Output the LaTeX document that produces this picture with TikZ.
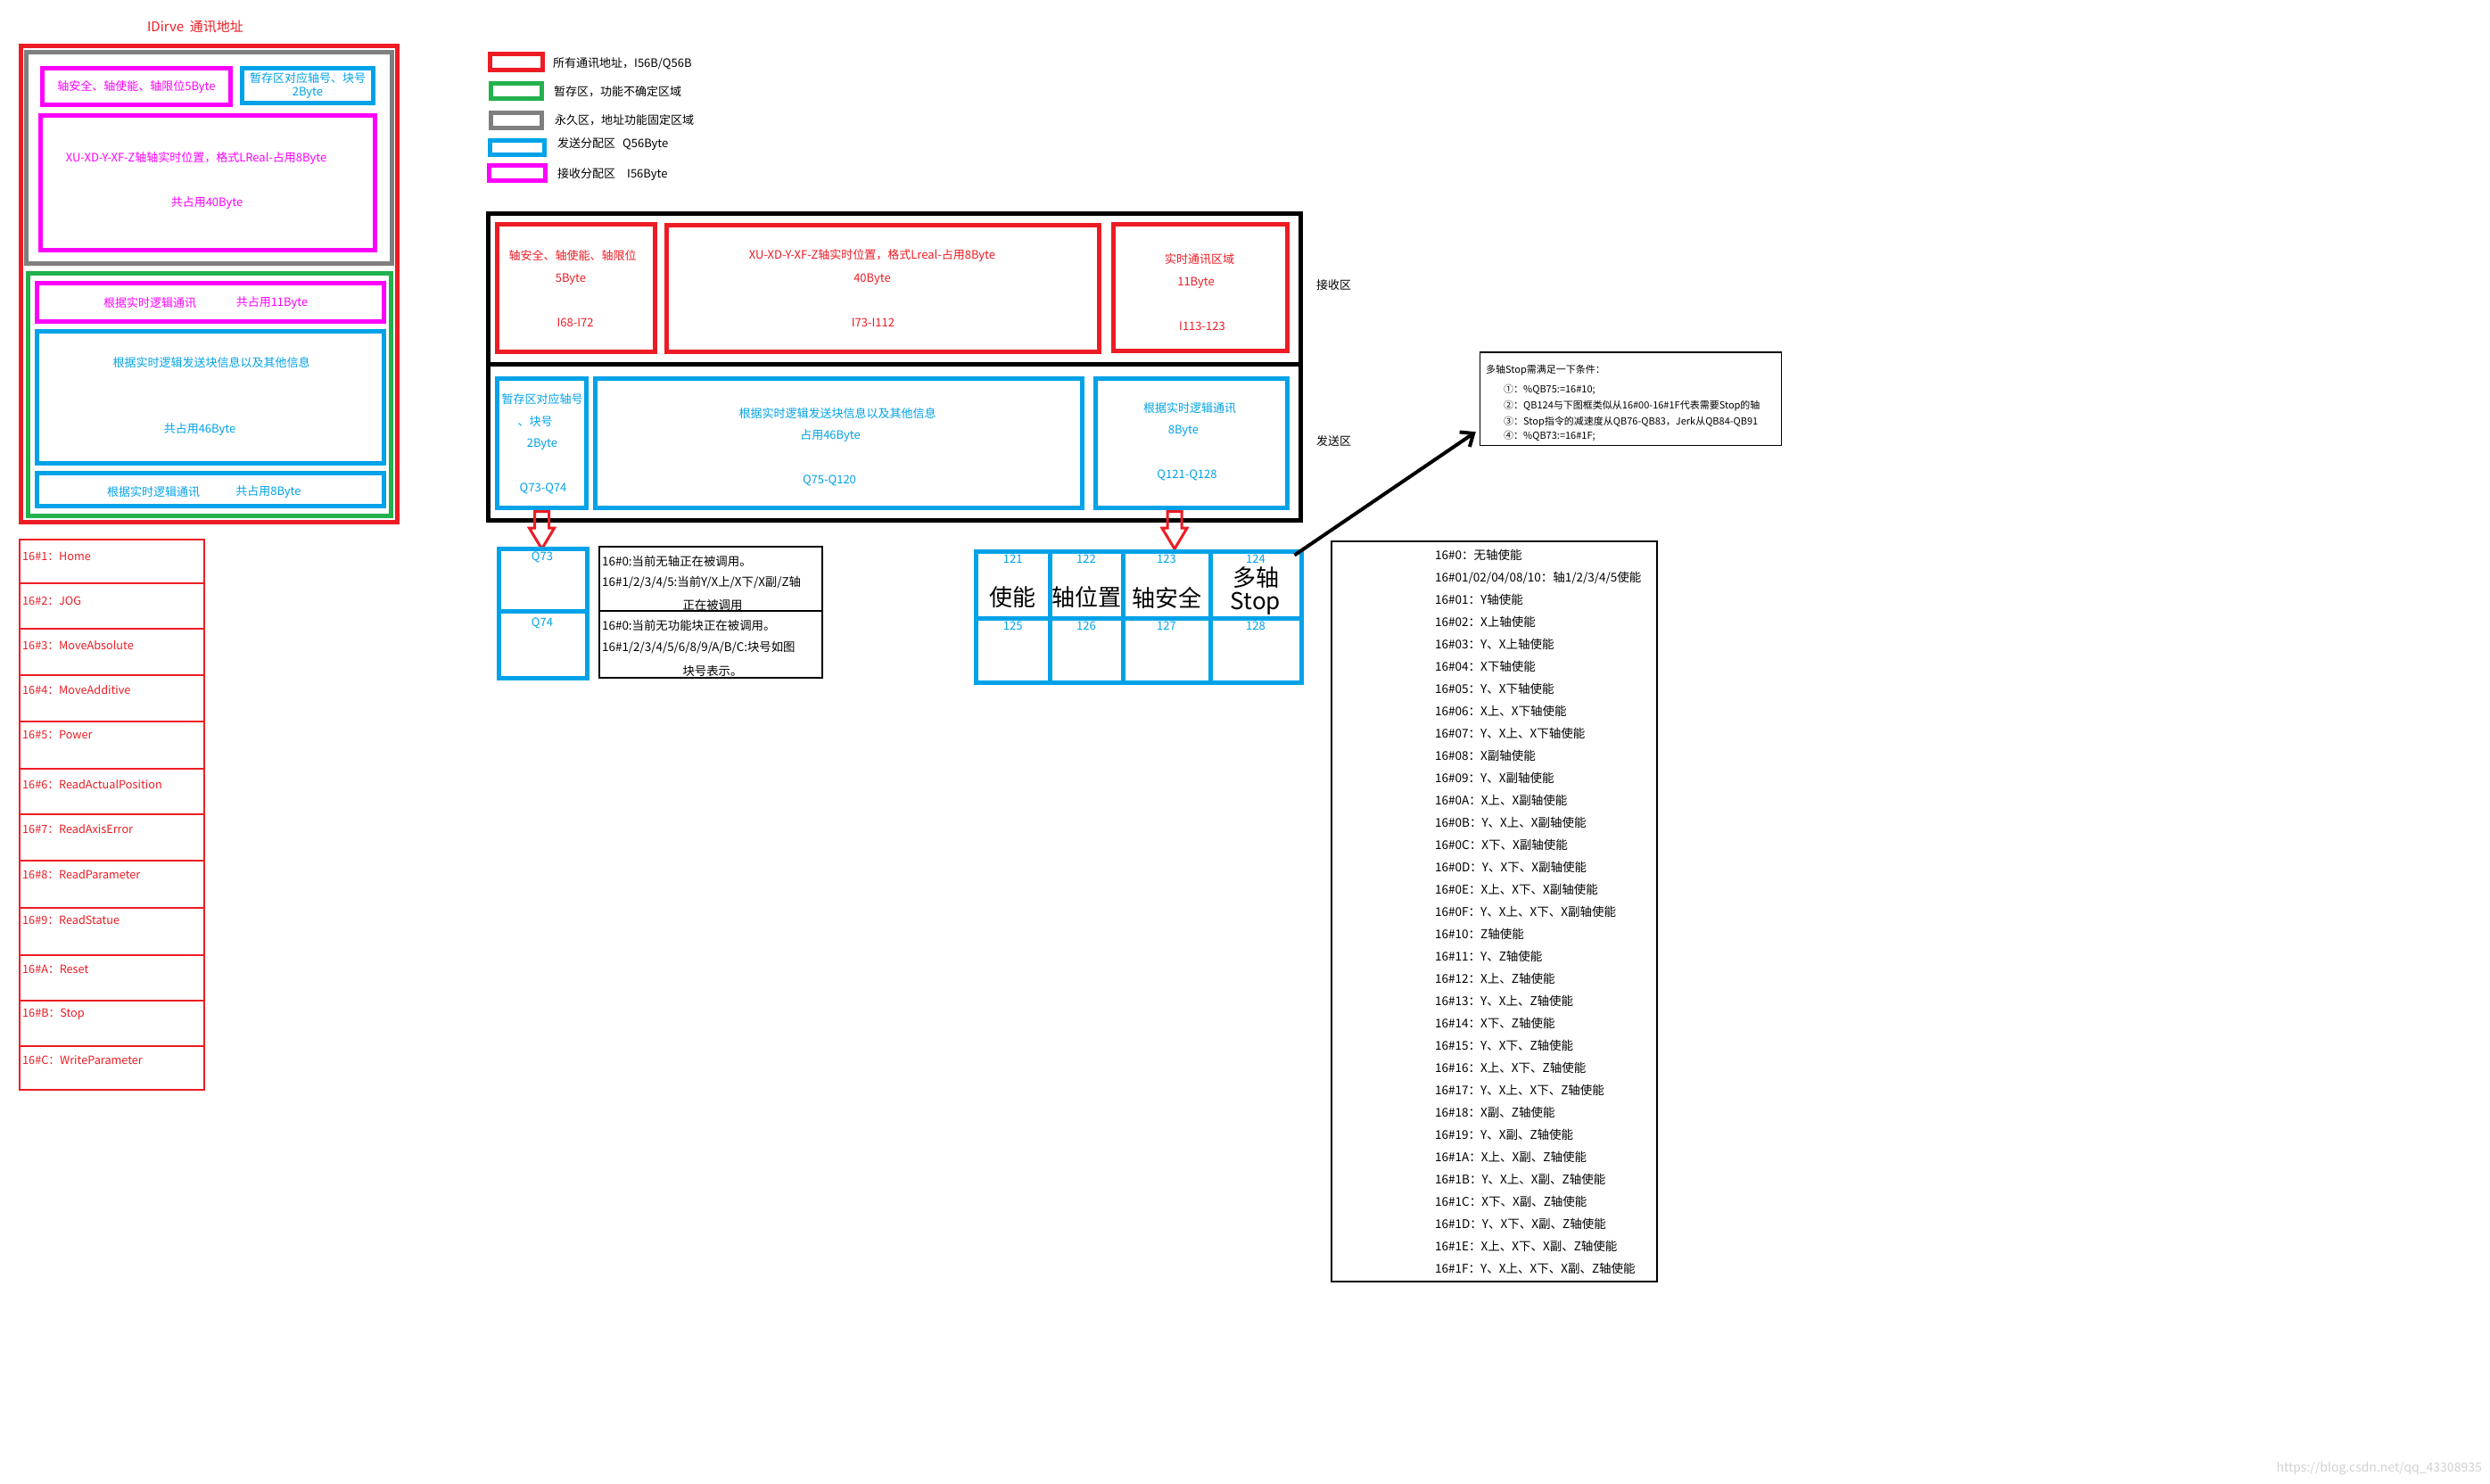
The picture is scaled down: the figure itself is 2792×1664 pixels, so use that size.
\documentclass[tikz,border=0pt]{standalone}
\usepackage{fontspec}
\setmainfont{Noto Sans CJK SC}
\usetikzlibrary{arrows.meta,shapes.arrows}
\definecolor{idred}{RGB}{237,28,36}
\definecolor{idmagenta}{RGB}{255,0,255}
\definecolor{idblue}{RGB}{0,162,232}
\definecolor{idgreen}{RGB}{34,177,76}
\definecolor{idgray}{RGB}{127,127,127}
\newcommand{\fsize}[2]{\fontsize{#1}{#2}\selectfont}

\begin{document}
\begin{tikzpicture}[
  x=1pt, y=-1pt,
  zone/.style={draw, line width=5, inner sep=0, align=center, font=\fsize{13}{15}},
  thinbox/.style={draw, line width=1.5, inner sep=0},
  wh/.style 2 args={minimum width=#1, minimum height=#2},
  txt/.style={inner sep=0, align=center, font=\fsize{13}{15}},
  fnrow/.style={draw=idred, line width=1.5, inner sep=0, minimum width=207},
  cell/.style={zone, draw=idblue},
  cellnum/.style={anchor=north, yshift=-6, inner sep=0, text=idblue, font=\fsize{13}{15}},
  bigtxt/.style={inner sep=0, align=center, font=\fsize{26}{26}},
  hollowarrow/.style={single arrow, draw=idred, line width=3, rotate=-90, anchor=tail,
    inner xsep=0, inner ysep=6.5, minimum height=42, minimum width=25,
    single arrow head extend=6, single arrow tip angle=62},
  pointer/.style={line width=4, -{Straight Barb[length=12, width=20]}}
]
  \fill[white] (0,0) rectangle (2792,1664);
  \useasboundingbox (0,0) rectangle (2792,1664);

  % IDrive address overview (left)
  \node[txt, text=idred, font=\fsize{15}{17}] (title) at (219,30) {IDirve~~通讯地址};
  \node[zone, draw=idred, wh={422}{534}] (all) at (234.5,318.5) {};
  \node[zone, draw=idgray, wh={410}{237}] (fixed) at (234.5,177) {};
  \node[zone, draw=idmagenta, text=idmagenta, wh={211}{41}] (safety) at (153,97) {轴安全、轴使能、轴限位5Byte};
  \node[zone, draw=idblue, text=idblue, wh={147}{39}] (slot) at (345,96) {暂存区对应轴号、块号\\2Byte};
  \node[zone, draw=idmagenta, wh={375}{151}] (axispos) at (233,205) {};
  \node[txt, text=idmagenta] at (220,178) {XU-XD-Y-XF-Z轴轴实时位置，格式LReal-占用8Byte};
  \node[txt, text=idmagenta] at (232,228) {共占用40Byte};
  \node[zone, draw=idgreen, wh={407}{272}] (temp) at (235,442.5) {};
  \node[zone, draw=idmagenta, wh={389}{43}] (rtrecv) at (236,339) {};
  \node[txt, text=idmagenta] at (168,340) {根据实时逻辑通讯};
  \node[txt, text=idmagenta] at (305,340) {共占用11Byte};
  \node[zone, draw=idblue, wh={389}{148}] (blocksend) at (236,445.5) {};
  \node[txt, text=idblue] at (237,407) {根据实时逻辑发送块信息以及其他信息};
  \node[txt, text=idblue] at (224,482) {共占用46Byte};
  \node[zone, draw=idblue, wh={389}{37}] (rtsend) at (236,549) {};
  \node[txt, text=idblue] at (172,552) {根据实时逻辑通讯};
  \node[txt, text=idblue] at (301,552) {共占用8Byte};

  % Function block numbers
  \foreach \code/\fname/\top/\bot/\ty in {1/Home/605/654/624, 2/JOG/654/705/674,
      3/MoveAbsolute/705/757/724, 4/MoveAdditive/757/809/774, 5/Power/809/862/824,
      6/ReadActualPosition/862/913/880, 7/ReadAxisError/913/965/930,
      8/ReadParameter/965/1018/981, 9/ReadStatue/1018/1071/1032,
      A/Reset/1071/1122/1087, B/Stop/1122/1173/1137, C/WriteParameter/1173/1222/1189}
  {
    \node[fnrow, minimum height={\bot-\top}] (fn\code) at (125.5,{(\top+\bot)/2}) {};
    \node[txt, text=idred, anchor=west, font=\fsize{12.7}{14}] at (25,\ty) {16\#\code：\fname};
  }

  % Legend
  \node[zone, draw=idred, wh={59}{18}] (lgred) at (579,69.5) {};
  \node[txt, anchor=west] at (620,71) {所有通讯地址，I56B/Q56B};
  \node[zone, draw=idgreen, wh={57}{17}] (lggreen) at (579,102) {};
  \node[txt, anchor=west] at (621,103) {暂存区，功能不确定区域};
  \node[zone, draw=idgray, wh={57}{17}] (lggray) at (579,135) {};
  \node[txt, anchor=west] at (622,135) {永久区，地址功能固定区域};
  \node[zone, draw=idblue, wh={61}{16}] (lgblue) at (580,165.5) {};
  \node[txt, anchor=west] at (625,162) {发送分配区\hspace{8pt}Q56Byte};
  \node[zone, draw=idmagenta, wh={63}{17}] (lgmag) at (580,194) {};
  \node[txt, anchor=west] at (625,196) {接收分配区\hspace{13pt}I56Byte};

  % Receive zone
  \node[zone, draw=black, wh={911}{168.5}] (recvzone) at (1003,323.75) {};
  \node[zone, draw=idred, wh={177}{143}] (r1) at (646,323) {};
  \node[txt, text=idred] at (642,287) {轴安全、轴使能、轴限位};
  \node[txt, text=idred] at (640,313) {5Byte};
  \node[txt, text=idred] at (645,362) {I68-I72};
  \node[zone, draw=idred, wh={485}{142}] (r2) at (990,323.5) {};
  \node[txt, text=idred] at (978,287) {XU-XD-Y-XF-Z轴实时位置，格式Lreal-占用8Byte};
  \node[txt, text=idred] at (978,313) {40Byte};
  \node[txt, text=idred] at (979,362) {I73-I112};
  \node[zone, draw=idred, wh={195}{142}] (r3) at (1346,322.5) {};
  \node[txt, text=idred] at (1345,291) {实时通讯区域};
  \node[txt, text=idred] at (1341,317) {11Byte};
  \node[txt, text=idred] at (1348,366) {I113-123};
  \node[txt, anchor=west] (recvlbl) at (1476,320) {接收区};

  % Send zone
  \node[zone, draw=black, wh={911}{175.5}] (sendzone) at (1003,495.75) {};
  \node[zone, draw=idblue, wh={100}{145}] (b1) at (607.5,497) {};
  \node[txt, text=idblue] at (608,448) {暂存区对应轴号};
  \node[txt, text=idblue] at (600,473) {、块号};
  \node[txt, text=idblue] at (608,498) {2Byte};
  \node[txt, text=idblue] at (609,548) {Q73-Q74};
  \node[zone, draw=idblue, wh={546}{145}] (b2) at (940.5,497) {};
  \node[txt, text=idblue] at (939,464) {根据实时逻辑发送块信息以及其他信息};
  \node[txt, text=idblue] at (931,489) {占用46Byte};
  \node[txt, text=idblue] at (930,539) {Q75-Q120};
  \node[zone, draw=idblue, wh={215}{145}] (b3) at (1336,497) {};
  \node[txt, text=idblue] at (1334,458) {根据实时逻辑通讯};
  \node[txt, text=idblue] at (1327,483) {8Byte};
  \node[txt, text=idblue] at (1331,533) {Q121-Q128};
  \node[txt, anchor=west] (sendlbl) at (1476,495) {发送区};

  % Q73/Q74 detail
  \node[hollowarrow] (arr1) at (b1.south) {};
  \node[zone, draw=idblue, wh={99}{69.5}] (q73) at (609,650.25) {};
  \node[zone, draw=idblue, wh={99}{75.5}] (q74) at (609,722.75) {};
  \node[txt, text=idblue] at (608,625) {Q73};
  \node[txt, text=idblue] at (608,699) {Q74};
  \node[thinbox, wh={250}{72}] (t73) at (797,649) {};
  \node[thinbox, wh={250}{75}] (t74) at (797,722.5) {};
  \node[txt, anchor=west, font=\fsize{13.4}{15}] at (675,629) {16\#0:当前无轴正在被调用。};
  \node[txt, anchor=west, font=\fsize{13.4}{15}] at (675,653) {16\#1/2/3/4/5:当前Y/X上/X下/X副/Z轴};
  \node[txt, font=\fsize{13.4}{15}] at (799,678) {正在被调用};
  \node[txt, anchor=west, font=\fsize{13.4}{15}] at (675,701) {16\#0:当前无功能块正在被调用。};
  \node[txt, anchor=west, font=\fsize{13.4}{15}] at (675,726) {16\#1/2/3/4/5/6/8/9/A/B/C:块号如图};
  \node[txt, font=\fsize{13.4}{15}] at (799,752) {块号表示。};

  % Q121-Q128 detail
  \node[hollowarrow] (arr2) at ([xshift=-19]b3.south) {};
  \node[cell, wh={82.5}{75}, label={[cellnum]north:121}] (c121) at (1135.75,655.5) {};
  \node[cell, wh={82}{75}, label={[cellnum]north:122}] (c122) at (1218,655.5) {};
  \node[cell, wh={98}{75}, label={[cellnum]north:123}] (c123) at (1308,655.5) {};
  \node[cell, wh={102}{75}, label={[cellnum]north:124}] (c124) at (1408,655.5) {};
  \node[cell, wh={82.5}{72.5}, label={[cellnum]north:125}] (c125) at (1135.75,729.25) {};
  \node[cell, wh={82}{72.5}, label={[cellnum]north:126}] (c126) at (1218,729.25) {};
  \node[cell, wh={98}{72.5}, label={[cellnum]north:127}] (c127) at (1308,729.25) {};
  \node[cell, wh={102}{72.5}, label={[cellnum]north:128}] (c128) at (1408,729.25) {};
  \node[bigtxt] at (1135,670) {使能};
  \node[bigtxt] at (1218,670) {轴位置};
  \node[bigtxt] at (1308,670) {轴安全};
  \node[bigtxt] at (1408,663) {多轴\\Stop};

  % Multi-axis stop
  \node[thinbox, wh={338}{104.5}] (stopbox) at (1828.5,447.25) {};
  \node[txt, anchor=west, font=\fsize{11}{13}] at (1666,415) {多轴Stop需满足一下条件：};
  \node[txt, anchor=west, font=\fsize{11}{13}] at (1686,437) {①：\%QB75:=16\#10;};
  \node[txt, anchor=west, font=\fsize{11}{13}] at (1686,455) {②：QB124与下图框类似从16\#00-16\#1F代表需要Stop的轴};
  \node[txt, anchor=west, font=\fsize{11}{13}] at (1686,473) {③：Stop指令的减速度从QB76-QB83，Jerk从QB84-QB91};
  \node[txt, anchor=west, font=\fsize{11}{13}] at (1686,489) {④：\%QB73:=16\#1F;};
  \draw[pointer] ([shift={(-10,7)}]c124.north east) -- ([shift={(-4,-16)}]stopbox.south west);

  % Axis enable codes
  \node[thinbox, wh={365}{830}] (enlist) at (1675.5,1022) {};
  \node[inner sep=0, anchor=north west, align=left, font=\fsize{13.5}{25}] (entext) at (1609,616) {%
    16\#0：无轴使能\\
    16\#01/02/04/08/10：轴1/2/3/4/5使能\\
    16\#01：Y轴使能\\
    16\#02：X上轴使能\\
    16\#03：Y、X上轴使能\\
    16\#04：X下轴使能\\
    16\#05：Y、X下轴使能\\
    16\#06：X上、X下轴使能\\
    16\#07：Y、X上、X下轴使能\\
    16\#08：X副轴使能\\
    16\#09：Y、X副轴使能\\
    16\#0A：X上、X副轴使能\\
    16\#0B：Y、X上、X副轴使能\\
    16\#0C：X下、X副轴使能\\
    16\#0D：Y、X下、X副轴使能\\
    16\#0E：X上、X下、X副轴使能\\
    16\#0F：Y、X上、X下、X副轴使能\\
    16\#10：Z轴使能\\
    16\#11：Y、Z轴使能\\
    16\#12：X上、Z轴使能\\
    16\#13：Y、X上、Z轴使能\\
    16\#14：X下、Z轴使能\\
    16\#15：Y、X下、Z轴使能\\
    16\#16：X上、X下、Z轴使能\\
    16\#17：Y、X上、X下、Z轴使能\\
    16\#18：X副、Z轴使能\\
    16\#19：Y、X副、Z轴使能\\
    16\#1A：X上、X副、Z轴使能\\
    16\#1B：Y、X上、X副、Z轴使能\\
    16\#1C：X下、X副、Z轴使能\\
    16\#1D：Y、X下、X副、Z轴使能\\
    16\#1E：X上、X下、X副、Z轴使能\\
    16\#1F：Y、X上、X下、X副、Z轴使能};

  \node[txt, anchor=east, text=black!18, font=\fsize{14}{16}] (wm) at (2783,1647) {https://blog.csdn.net/qq\_43308935};
\end{tikzpicture}
\end{document}
